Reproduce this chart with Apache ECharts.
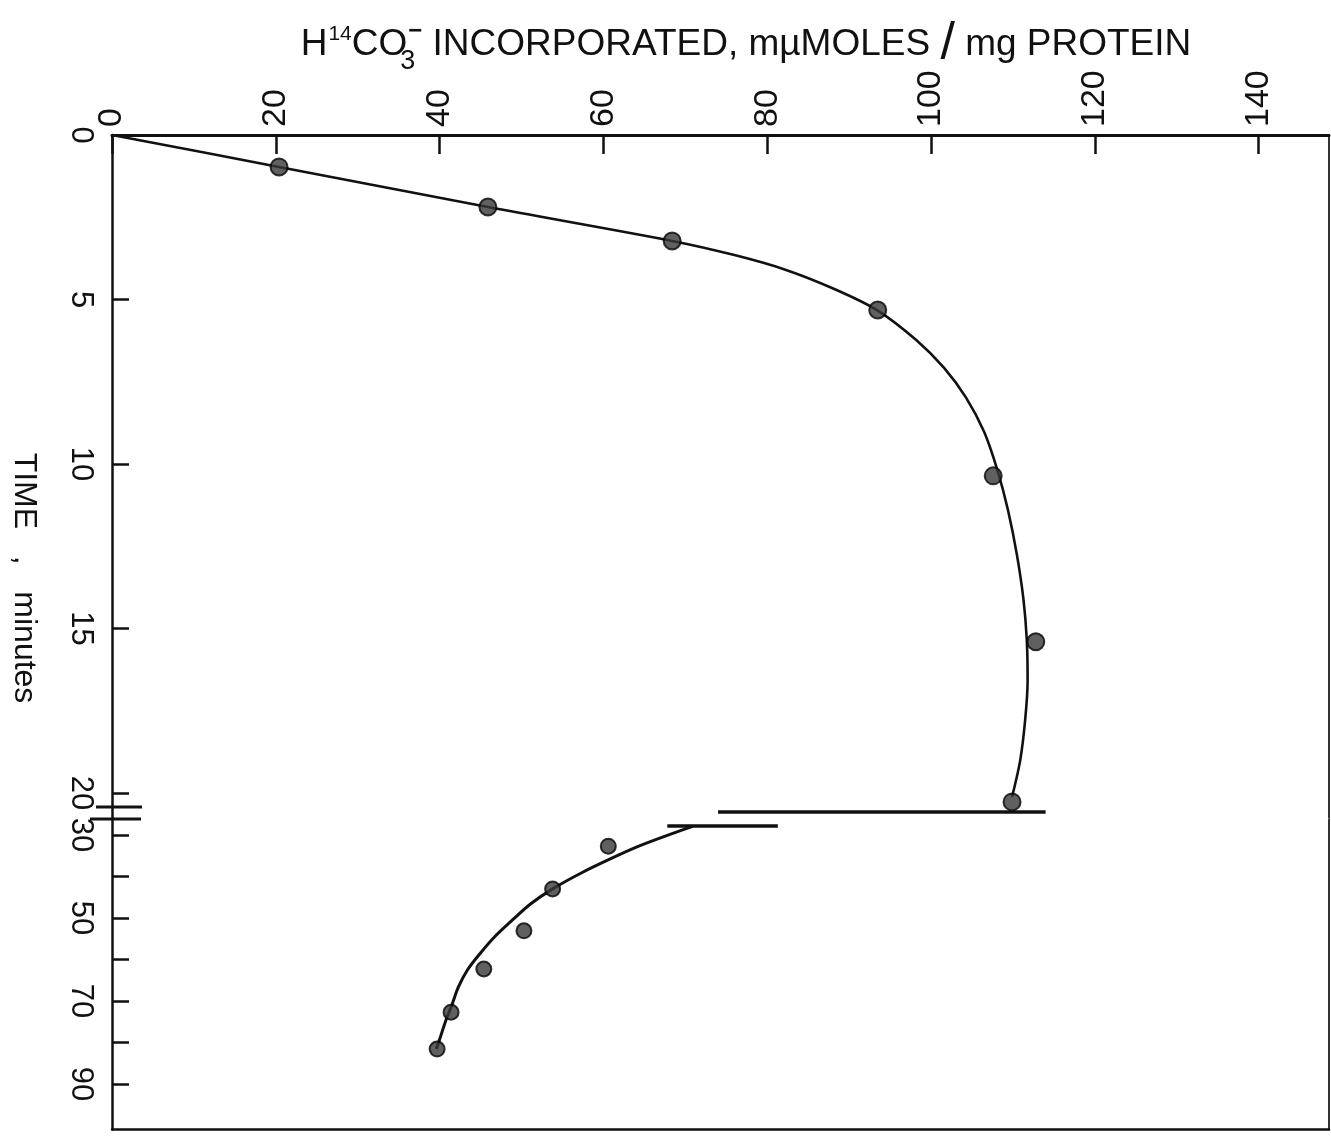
<!DOCTYPE html>
<html>
<head>
<meta charset="utf-8">
<style>
html,body{margin:0;padding:0;background:#fff;}
#c{width:1331px;height:1143px;}
</style>
<script src="https://cdn.jsdelivr.net/npm/echarts@6/dist/echarts.min.js"></script>
</head>
<body>
<div id="c"></div>
<script>
// ---- data (value = H14CO3- incorporated, time = minutes) ----
const valueTicks = [0, 20, 40, 60, 80, 100, 120, 140];
const timeTicksUpper = [0, 5, 10, 15, 20];
const timeTicksLower = [30, 40, 50, 60, 70, 80, 90];
const timeLabelsLower = [30, 50, 70, 90];

// measured points [value, time]
const upperPoints = [[20.4, 0.97], [45.9, 2.19], [68.4, 3.22], [93.5, 5.32], [107.6, 10.36], [112.8, 15.4], [109.9, 20.27]];
const lowerPoints = [[60.6, 32.7], [53.8, 43.0], [50.3, 53.1], [45.4, 62.3], [41.4, 72.7], [39.7, 81.6]];

// hand-drawn fitted curves [value, time]
const upperCurve = [[0, 0], [20.4, 0.97], [45.9, 2.19], [68.4, 3.22], [76.0, 3.65], [82.3, 4.10], [88.2, 4.68],
  [93.4, 5.32], [98.2, 6.23], [101.6, 7.08], [104.3, 7.99], [106.5, 9.03], [108.1, 10.18], [109.4, 11.40],
  [110.5, 12.77], [111.3, 14.13], [111.7, 15.35], [111.8, 16.57], [111.5, 17.78], [110.9, 19.0], [109.9, 20.12]];
const lowerCurve = [[70.9, 27.95], [68.3, 29.76], [64.4, 32.65], [61.1, 35.54], [57.3, 39.16], [53.8, 43.0],
  [51.1, 46.63], [48.9, 50.48], [46.7, 54.58], [45.0, 58.43], [43.4, 62.53], [42.3, 66.63], [41.5, 70.96],
  [40.7, 75.06], [40.1, 78.67], [39.6, 81.57]];

// horizontal bars marking the axis break on the curves
const upperBreakBar = [[74.0, 20.58], [114.0, 20.58]];
const lowerBreakBar = [[67.8, 27.83], [81.3, 27.83]];

// ---- chart ----
const FONT = 'Liberation Sans';
const INK = '#111';
const VMAX = 148.6;

const chart = echarts.init(document.getElementById('c'), null, {renderer: 'canvas'});

function hAxis(grid, pos, labels) {
  return {
    type: 'value', gridIndex: grid, position: pos, min: 0, max: VMAX,
    axisLine: {show: true, onZero: false, lineStyle: {color: INK, width: pos === 'top' ? 3 : 2.5}},
    axisTick: labels ? {show: true, inside: true, length: 19, lineStyle: {color: INK, width: 2.5}, customValues: valueTicks} : {show: false},
    axisLabel: labels ? {show: true, rotate: -90, fontFamily: FONT, fontSize: 34, color: INK, margin: 8, customValues: valueTicks} : {show: false},
    splitLine: {show: false}
  };
}

const option = {
  backgroundColor: '#fff',
  animation: false,
  grid: [
    {left: 112, width: 1217, top: 135, height: 682.7},
    {left: 112, width: 1217, top: 819.6, height: 310}
  ],
  xAxis: [hAxis(0, 'top', true), hAxis(1, 'bottom', false)],
  yAxis: [
    {
      type: 'value', gridIndex: 0, inverse: true, min: 0, max: 20.75, position: 'left',
      axisLine: {show: true, onZero: false, lineStyle: {color: INK, width: 2.5}},
      axisTick: {show: true, inside: true, length: 17, lineStyle: {color: INK, width: 2.5}, customValues: timeTicksUpper},
      axisLabel: {show: true, rotate: -90, fontFamily: FONT, fontSize: 31, color: INK, margin: 16, customValues: timeTicksUpper},
      splitLine: {show: false}
    },
    {
      type: 'value', gridIndex: 1, inverse: true, min: 26.3, max: 101, position: 'left',
      axisLine: {show: true, onZero: false, lineStyle: {color: INK, width: 2.5}},
      axisTick: {show: true, inside: true, length: 17, lineStyle: {color: INK, width: 2.5}, customValues: timeTicksLower},
      axisLabel: {show: true, rotate: -90, fontFamily: FONT, fontSize: 31, color: INK, margin: 16, customValues: timeLabelsLower},
      splitLine: {show: false}
    },
    {
      type: 'value', gridIndex: 0, inverse: true, min: 0, max: 20.75, position: 'right',
      axisLine: {show: true, onZero: false, lineStyle: {color: '#333', width: 2}},
      axisTick: {show: false}, axisLabel: {show: false}, splitLine: {show: false}
    },
    {
      type: 'value', gridIndex: 1, inverse: true, min: 26.3, max: 101, position: 'right',
      axisLine: {show: true, onZero: false, lineStyle: {color: '#333', width: 2}},
      axisTick: {show: false}, axisLabel: {show: false}, splitLine: {show: false}
    }
  ],
  series: [
    {type: 'line', xAxisIndex: 0, yAxisIndex: 0, data: upperCurve, smooth: 0.3, showSymbol: false,
      lineStyle: {color: INK, width: 2.6}, silent: true},
    {type: 'line', xAxisIndex: 1, yAxisIndex: 1, data: lowerCurve, smooth: 0.3, showSymbol: false,
      lineStyle: {color: INK, width: 3}, silent: true},
    {type: 'line', xAxisIndex: 0, yAxisIndex: 0, data: upperBreakBar, showSymbol: false,
      lineStyle: {color: INK, width: 3.5}, silent: true},
    {type: 'line', xAxisIndex: 1, yAxisIndex: 1, data: lowerBreakBar, showSymbol: false,
      lineStyle: {color: INK, width: 3.5}, silent: true},
    {type: 'scatter', xAxisIndex: 0, yAxisIndex: 0, data: upperPoints, symbol: 'circle', symbolSize: 17,
      itemStyle: {color: '#383838', borderColor: '#050505', borderWidth: 2}, z: 5},
    {type: 'scatter', xAxisIndex: 1, yAxisIndex: 1, data: lowerPoints, symbol: 'circle', symbolSize: 15,
      itemStyle: {color: '#383838', borderColor: '#050505', borderWidth: 2}, z: 5}
  ],
  graphic: [
    // title (rich text with super/subscripts)
    {type: 'text', x: 746, y: 16,
      style: {
        text: '{b|H}{sup|14}{b|CO}{sub|3}{neg|−}{b| INCORPORATED, mµMOLES }{sl|/}{b| mg PROTEIN}',
        align: 'center', verticalAlign: 'top', fill: INK,
        rich: {
          b: {fontFamily: FONT, fontSize: 37, lineHeight: 37, verticalAlign: 'middle', fill: INK},
          sup: {fontFamily: FONT, fontSize: 21, lineHeight: 22, padding: [8, 0, 0, 1], verticalAlign: 'top', fill: INK},
          sub: {fontFamily: FONT, fontSize: 27, lineHeight: 27, padding: [32, 0, 0, 0], width: 1, align: 'left', verticalAlign: 'top', fill: INK},
          neg: {fontFamily: FONT, fontSize: 24, fontWeight: 'bold', lineHeight: 22, padding: [3, 0, 0, 0], verticalAlign: 'top', fill: INK},
          sl: {fontFamily: FONT, fontSize: 52, lineHeight: 58, verticalAlign: 'middle', fill: INK}
        }
      }},
    // time axis name (reads top to bottom)
    {type: 'text', x: 24, y: 578, rotation: -Math.PI / 2,
      style: {text: 'TIME   ,   minutes', x: 0, y: 0, font: '32px ' + FONT, fill: INK, align: 'center', verticalAlign: 'middle'}},
    // axis break marks on the time axis
    {type: 'line', shape: {x1: 96, y1: 807, x2: 142, y2: 807}, style: {stroke: INK, lineWidth: 3}},
    {type: 'line', shape: {x1: 90, y1: 819, x2: 141, y2: 819}, style: {stroke: INK, lineWidth: 3}}
  ]
};
chart.setOption(option);
</script>
</body>
</html>
